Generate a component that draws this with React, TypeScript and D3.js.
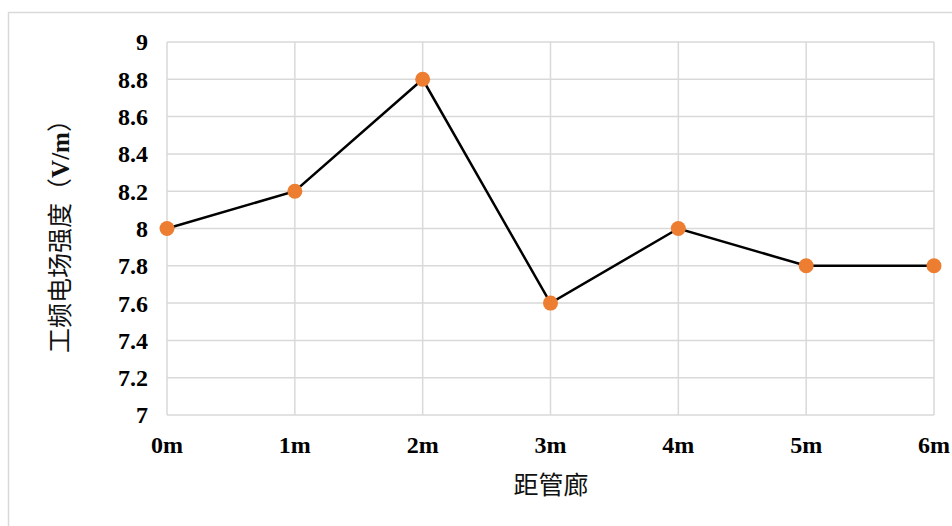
import React from "react";
import * as d3 from "d3";

const categories = ["0m", "1m", "2m", "3m", "4m", "5m", "6m"];
const values = [8.0, 8.2, 8.8, 7.6, 8.0, 7.8, 7.8];
const yTicks = [7, 7.2, 7.4, 7.6, 7.8, 8, 8.2, 8.4, 8.6, 8.8, 9];
const xTitle = "距管廊";
const yTitleCjk = "工频电场强度（";
const yTitleUnit = "V/m";
const yTitleEnd = "）";

export default function App() {
  const W = 952, H = 526;
  const left = 167, right = 934, top = 42, bottom = 415;
  const x = d3.scalePoint<string>().domain(categories).range([left, right]);
  const y = d3.scaleLinear().domain([7, 9]).range([bottom, top]);
  const line = d3.line<number>().x((_, i) => x(categories[i])!).y((d) => y(d));
  const serif = "'Liberation Serif', 'Times New Roman', serif";
  const cjk = "'Noto Sans CJK SC', sans-serif";
  return (
    <svg width={W} height={H} style={{ position: "absolute", left: 0, top: 0, background: "#fff" }}>
      <rect x={8.5} y={12.5} width={W} height={H} fill="#fff" stroke="#d9d9d9" strokeWidth={1.5} />
      {yTicks.map((t) => (
        <line key={"h" + t} x1={left} x2={right} y1={y(t)} y2={y(t)} stroke="#d9d9d9" strokeWidth={1.5} />
      ))}
      {categories.map((c) => (
        <line key={"v" + c} x1={x(c)} x2={x(c)} y1={top} y2={bottom} stroke="#d9d9d9" strokeWidth={1.5} />
      ))}
      {yTicks.map((t) => (
        <text key={"yl" + t} x={148} y={y(t)} dy="0.35em" textAnchor="end" fontFamily={serif} fontWeight="bold" fontSize={24} fill="#000">
          {d3.format("~g")(t)}
        </text>
      ))}
      {categories.map((c) => (
        <text key={"xl" + c} x={x(c)} y={453} textAnchor="middle" fontFamily={serif} fontWeight="bold" fontSize={24} fill="#000">
          {c}
        </text>
      ))}
      <path d={line(values) || ""} fill="none" stroke="#000" strokeWidth={2.5} />
      {values.map((v, i) => (
        <circle key={"p" + i} cx={x(categories[i])} cy={y(v)} r={7.5} fill="#ED7D31" />
      ))}
      <text x={551} y={485} dy="0.35em" textAnchor="middle" fontFamily={cjk} fontSize={25} fill="#111">
        {xTitle}
      </text>
      <text transform={`translate(60,230) rotate(-90)`} textAnchor="middle" dy="0.35em" fontSize={25} fill="#111">
        <tspan fontFamily={cjk}>{yTitleCjk}</tspan>
        <tspan fontFamily={serif} fontWeight="bold">{yTitleUnit}</tspan>
        <tspan fontFamily={cjk}>{yTitleEnd}</tspan>
      </text>
    </svg>
  );
}
